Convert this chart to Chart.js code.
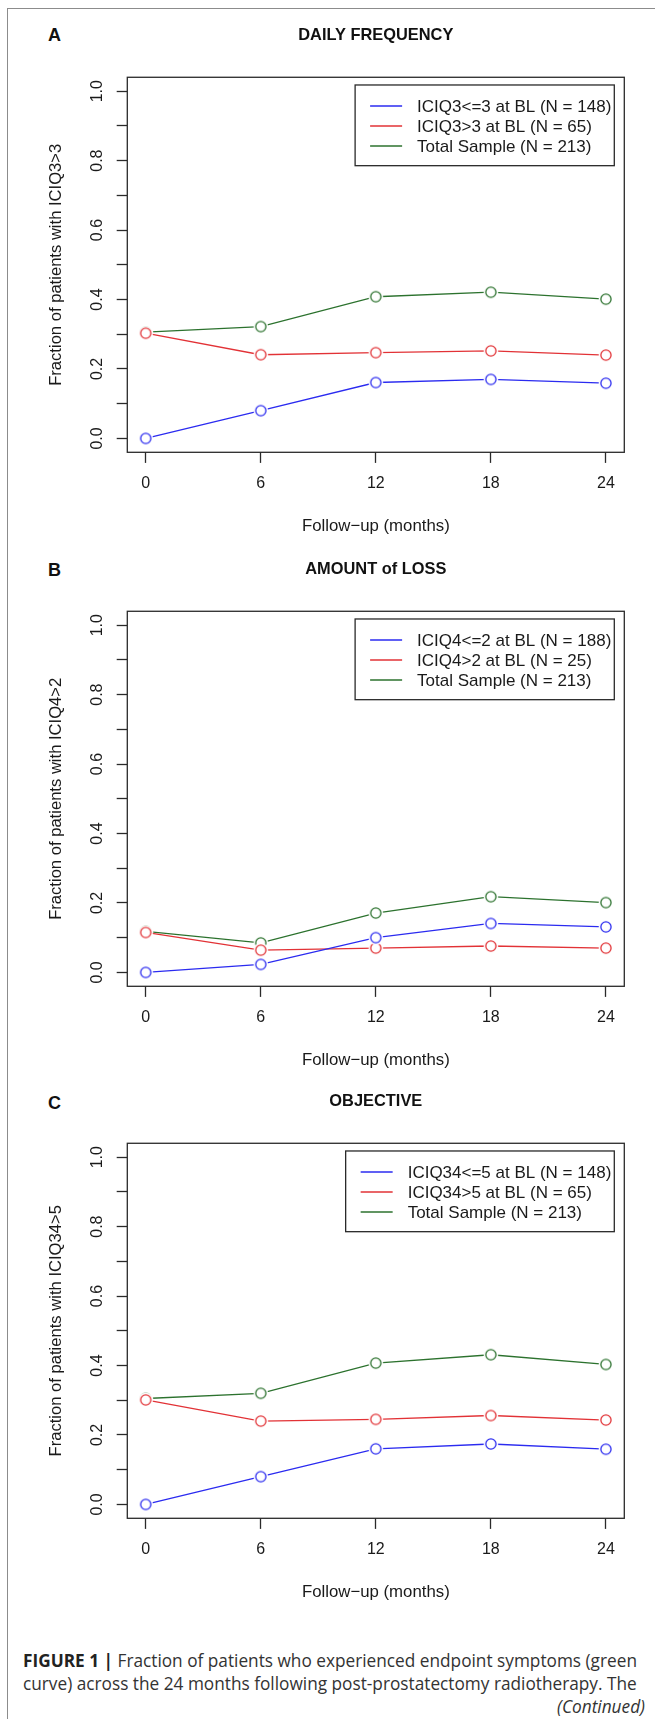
<!DOCTYPE html>
<html>
<head>
<meta charset="utf-8">
<script src="https://cdn.jsdelivr.net/npm/chart.js@4.4.1/dist/chart.umd.min.js"></script>
<style>
  body { margin: 0; background: #fff; width: 655px; height: 1719px; overflow: hidden; position: relative; }
  .frame { position: absolute; left: 6.5px; top: 8px; width: 700px; height: 1800px;
           border-left: 1.5px solid #8c8c8c; border-top: 1.5px solid #8c8c8c; }
  .panel { position: absolute; left: 0; }
  .letter { position: absolute; left: 48px; font: bold 18px "Liberation Sans", Arial, sans-serif; color: #111; line-height: 18px; }
  .cap { position: absolute; left: 23px; white-space: nowrap; font-family: "Open Sans", sans-serif; color: #333; line-height: 20px; }
</style>
</head>
<body>
<div class="frame"></div>

<div class="letter" style="top:26px">A</div>
<div class="letter" style="top:561px">B</div>
<div class="letter" style="top:1094px">C</div>
<canvas id="chartA" class="panel" width="655" height="545" style="top:0px"></canvas>
<canvas id="chartB" class="panel" width="655" height="545" style="top:533.7px"></canvas>
<canvas id="chartC" class="panel" width="655" height="545" style="top:1066.4px"></canvas>

<div class="cap" id="cap1" style="top:1651px"><b style="color:#222">FIGURE 1 |</b> Fraction of patients who experienced endpoint symptoms (green</div>
<div class="cap" id="cap2" style="top:1674px">curve) across the 24 months following post-prostatectomy radiotherapy. The</div>
<div class="cap" id="cap3" style="top:1697px;left:auto;right:10px;font-style:italic">(Continued)</div>

<script>
// follow-up times (months)
const months = [0, 6, 12, 18, 24];

// A: daily frequency
const dailyLow   = [0.000, 0.080, 0.161, 0.170, 0.159];
const dailyHigh  = [0.303, 0.241, 0.247, 0.252, 0.240];
const dailyTotal = [0.306, 0.322, 0.408, 0.421, 0.401];

// B: amount of loss
const lossLow   = [0.000, 0.023, 0.100, 0.141, 0.131];
const lossHigh  = [0.115, 0.064, 0.070, 0.076, 0.070];
const lossTotal = [0.118, 0.085, 0.171, 0.218, 0.201];

// C: objective
const objLow   = [0.000, 0.080, 0.160, 0.174, 0.159];
const objHigh  = [0.301, 0.240, 0.245, 0.256, 0.243];
const objTotal = [0.305, 0.320, 0.407, 0.431, 0.403];

const labelsA = ['ICIQ3<=3 at BL (N = 148)', 'ICIQ3>3 at BL (N = 65)', 'Total Sample (N = 213)'];
const labelsB = ['ICIQ4<=2 at BL (N = 188)', 'ICIQ4>2 at BL (N = 25)', 'Total Sample (N = 213)'];
const labelsC = ['ICIQ34<=5 at BL (N = 148)', 'ICIQ34>5 at BL (N = 65)', 'Total Sample (N = 213)'];

const colors = ['#2b2bf0', '#e23236', '#2c722e'];
const FONT = '"Liberation Sans", Arial, sans-serif';
const H = 545;

// open circle with a small white halo so lines stop short of the points (R type="b")
function ring(color) {
  const c = document.createElement('canvas');
  c.width = 18; c.height = 18;
  const g = c.getContext('2d');
  g.fillStyle = '#fff';
  g.beginPath(); g.arc(9, 9, 7.3, 0, Math.PI * 2); g.fill();
  g.strokeStyle = color; g.lineWidth = 1.3;
  g.beginPath(); g.arc(9, 9, 5.1, 0, Math.PI * 2); g.stroke();
  return c;
}

const boxPlugin = {
  id: 'rbox',
  afterDatasetsDraw(chart) {
    const a = chart.chartArea, ctx = chart.ctx;
    ctx.save();
    ctx.strokeStyle = '#2a2a2a';
    ctx.lineWidth = 1.3;
    ctx.strokeRect(a.left, a.top, a.right - a.left, a.bottom - a.top);
    ctx.restore();
  }
};

const legendPlugin = {
  id: 'rlegend',
  afterDatasetsDraw(chart) {
    const a = chart.chartArea, ctx = chart.ctx;
    const sets = chart.data.datasets;
    ctx.save();
    ctx.font = '17px ' + FONT;
    let w = 0;
    sets.forEach(d => { w = Math.max(w, ctx.measureText(d.label).width); });
    const boxW = 62 + w + 3, boxH = 80.7;
    const right = a.right - 10, left = right - boxW, top = a.top + 7.7;
    ctx.fillStyle = '#fff';
    ctx.fillRect(left, top, boxW, boxH);
    ctx.strokeStyle = '#2a2a2a';
    ctx.lineWidth = 1.3;
    ctx.strokeRect(left, top, boxW, boxH);
    sets.forEach((d, i) => {
      const y = top + 21 + i * 20;
      ctx.strokeStyle = d.borderColor;
      ctx.lineWidth = 1.3;
      ctx.beginPath(); ctx.moveTo(left + 15, y); ctx.lineTo(left + 47, y); ctx.stroke();
      ctx.fillStyle = '#1a1a1a';
      ctx.textBaseline = 'middle';
      ctx.fillText(d.label, left + 62, y + 1);
    });
    ctx.restore();
  }
};

function makeChart(id, title, yTitle, series, labels) {
  return new Chart(document.getElementById(id), {
    type: 'line',
    data: {
      datasets: series.map((vals, i) => ({
        label: labels[i],
        data: months.map((m, j) => ({ x: m, y: vals[j] })),
        borderColor: colors[i],
        borderWidth: 1.3,
        pointStyle: ring(colors[i]),
        pointRadius: 5,
        tension: 0,
        fill: false
      }))
    },
    options: {
      responsive: false,
      animation: false,
      events: [],
      layout: { padding: { left: 0, top: 0, right: 30.7, bottom: 0 } },
      plugins: {
        legend: { display: false },
        tooltip: { enabled: false },
        title: {
          display: true, text: title, fullSize: false, color: '#111',
          font: { family: FONT, size: 16.4, weight: 'bold' },
          padding: { top: 25.2, bottom: 32.4 }
        }
      },
      scales: {
        x: {
          type: 'linear', min: -0.96, max: 24.96,
          afterFit: s => { s.height = H - 452.3; },
          border: { display: false },
          grid: { drawOnChartArea: false, drawTicks: true, tickLength: 10.6, tickColor: '#2a2a2a', tickWidth: 1.3 },
          ticks: { stepSize: 6, includeBounds: false, autoSkip: false, color: '#1a1a1a', padding: 11.5,
                   font: { family: FONT, size: 16 }, callback: v => String(v) },
          title: { display: true, text: 'Follow\u2212up (months)', color: '#1a1a1a',
                   font: { family: FONT, size: 16.8 }, padding: { top: 0, bottom: 8.3 } }
        },
        y: {
          type: 'linear', min: -0.04, max: 1.04,
          afterFit: s => { s.width = 127.3; },
          border: { display: false },
          grid: { drawOnChartArea: false, drawTicks: true, tickLength: 10.6, tickColor: '#2a2a2a', tickWidth: 1.3 },
          ticks: { stepSize: 0.1, includeBounds: false, autoSkip: false, minRotation: 90, maxRotation: 90,
                   crossAlign: 'center', padding: 8, color: '#1a1a1a', font: { family: FONT, size: 16 },
                   callback: v => { const k = Math.round(v * 10); return k % 2 === 0 ? (k / 10).toFixed(1) : ''; } },
          title: { display: true, text: yTitle, color: '#1a1a1a',
                   font: { family: FONT, size: 16.6 }, padding: { top: 46, bottom: 0 } }
        }
      }
    },
    plugins: [boxPlugin, legendPlugin]
  });
}

makeChart('chartA', 'DAILY FREQUENCY', 'Fraction of patients with ICIQ3>3', [dailyLow, dailyHigh, dailyTotal], labelsA);
makeChart('chartB', 'AMOUNT of LOSS', 'Fraction of patients with ICIQ4>2', [lossLow, lossHigh, lossTotal], labelsB);
makeChart('chartC', 'OBJECTIVE', 'Fraction of patients with ICIQ34>5', [objLow, objHigh, objTotal], labelsC);

// fit the caption to the width of the printed lines
(function () {
  const c1 = document.getElementById('cap1');
  let size = 16;
  c1.style.fontSize = size + 'px';
  size = size * 614 / c1.getBoundingClientRect().width;
  ['cap1', 'cap2', 'cap3'].forEach(id => { document.getElementById(id).style.fontSize = size.toFixed(2) + 'px'; });
})();
</script>
</body>
</html>
